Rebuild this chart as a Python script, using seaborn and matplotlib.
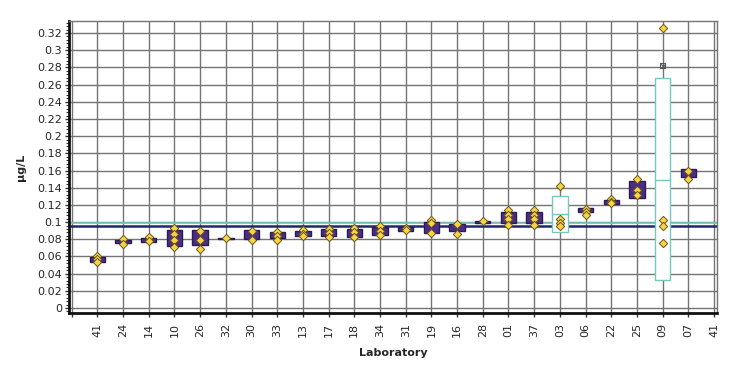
import numpy as np
import pandas as pd
import matplotlib
matplotlib.use("Agg")
import matplotlib.pyplot as plt
import seaborn as sns
from matplotlib.ticker import MultipleLocator, AutoMinorLocator, FuncFormatter

# ---------------- data ----------------
labs = ["41", "24", "14", "10", "26", "32", "30", "33", "13", "17", "18", "34",
        "31", "19", "16", "28", "01", "37", "03", "06", "22", "25", "09", "07"]
tick_labels = [""] + labs + ["41"]

box_low = [0.054, 0.076, 0.077, 0.0725, 0.0735, 0.0805, 0.080, 0.082, 0.0835, 0.084,
           0.083, 0.085, 0.090, 0.087, 0.0896, 0.0985, 0.0985, 0.0985, 0.088, 0.1115,
           0.121, 0.128, 0.0326, 0.153]
box_high = [0.059, 0.079, 0.082, 0.091, 0.091, 0.082, 0.091, 0.088, 0.090, 0.0915,
            0.092, 0.0946, 0.0946, 0.1004, 0.0977, 0.1016, 0.112, 0.112, 0.130, 0.116,
            0.1255, 0.148, 0.268, 0.1615]
box_median = [np.nan] * 18 + [0.109] + [np.nan] * 3 + [0.149, np.nan]
box_kind = ["lab"] * 18 + ["flag"] + ["lab"] * 3 + ["flag", "lab"]

point_lab = ["41", "41", "41", "24", "24", "14", "14", "10", "10", "10", "10",
             "26", "26", "26", "32", "30", "30", "33", "33", "33", "13", "13", "13",
             "17", "17", "17", "18", "18", "18", "34", "34", "34", "31", "31",
             "19", "19", "19", "16", "16", "28", "01", "01", "01", "01",
             "37", "37", "37", "37", "03", "03", "03", "03", "06", "06", "06",
             "22", "22", "22", "25", "25", "25", "09", "09", "09", "09", "07", "07"]
point_val = [0.061, 0.057, 0.053, 0.080, 0.075, 0.083, 0.078, 0.093, 0.086, 0.079, 0.071,
             0.0895, 0.0795, 0.069, 0.081, 0.0895, 0.0795, 0.0888, 0.0841, 0.0791,
             0.0908, 0.0861, 0.0838, 0.0915, 0.087, 0.0822, 0.0934, 0.0888, 0.083,
             0.0954, 0.090, 0.085, 0.0927, 0.0908, 0.1024, 0.0985, 0.087, 0.0974, 0.0857,
             0.1012, 0.1135, 0.1085, 0.1035, 0.097, 0.1135, 0.1085, 0.1035, 0.097,
             0.142, 0.1035, 0.0995, 0.095, 0.1155, 0.1115, 0.108, 0.1265, 0.1237, 0.1218,
             0.150, 0.137, 0.131, 0.326, 0.1024, 0.0958, 0.0753, 0.160, 0.1497]

outlier_lab = ["09"]
outlier_val = [0.282]

assigned_value = 0.0955
upper_ref = 0.0985

# ---------------- style ----------------
sns.set_style("white")
plt.rcParams["font.family"] = ["DejaVu Sans"]

PURPLE = "#4b2d86"
PURPLE_EDGE = "#2b1a57"
TEAL = "#78c7bd"
NAVY = "#1c2a68"
YELLOW = "#f6d34a"
YELLOW_EDGE = "#6e5a14"
GRID = "#747474"

fig = plt.figure(figsize=(7.36, 3.66), dpi=100)
ax = fig.add_axes([69 / 736, (366 - 313) / 366, (717 - 69) / 736, (313 - 21) / 366])

pos_of = {lab: i + 1 for i, lab in enumerate(labs)}
box_df = pd.DataFrame({"lab": labs, "low": box_low, "high": box_high,
                       "median": box_median, "kind": box_kind})
box_df["pos"] = np.arange(1, len(labs) + 1)
pts = pd.DataFrame({"lab": point_lab, "value": point_val})
pts["pos"] = pts["lab"].map(pos_of)
outs = pd.DataFrame({"lab": outlier_lab, "value": outlier_val})
outs["pos"] = outs["lab"].map(pos_of)

# grid
ax.set_axisbelow(True)
ax.grid(True, color=GRID, linewidth=1.0)

# reference lines
ax.axhline(upper_ref, color=TEAL, linewidth=1.2, zorder=2)
ax.axhline(assigned_value, color=NAVY, linewidth=1.8, zorder=2)

# boxes
for kind, fc, ec in [("lab", PURPLE, PURPLE_EDGE), ("flag", "white", TEAL)]:
    sub = box_df[box_df["kind"] == kind]
    ax.bar(sub["pos"], sub["high"] - sub["low"], bottom=sub["low"], width=0.6,
           color=fc, edgecolor=ec, linewidth=1.0, zorder=3)
flag = box_df[box_df["kind"] == "flag"]
ax.hlines(flag["median"], flag["pos"] - 0.3, flag["pos"] + 0.3, color=TEAL,
          linewidth=1.0, zorder=4)

# points
sns.scatterplot(data=pts, x="pos", y="value", marker="D", s=18, color=YELLOW,
                edgecolor=YELLOW_EDGE, linewidth=0.7, zorder=5, ax=ax, legend=False)
ax.scatter(outs["pos"], outs["value"], marker="s", s=12, facecolor="none",
           edgecolor="#555555", linewidth=0.8, zorder=5)
ax.scatter(outs["pos"], outs["value"], marker="x", s=10, color="#555555",
           linewidth=0.8, zorder=5)

# axes
ax.set_xlim(-0.105, 25.117)
ax.set_ylim(-0.0058, 0.334)
ax.set_xticks(range(len(tick_labels)))
ax.set_xticklabels(tick_labels, rotation=90, fontsize=8)
ax.yaxis.set_major_locator(MultipleLocator(0.02))
ax.yaxis.set_minor_locator(AutoMinorLocator(5))
ax.yaxis.set_major_formatter(FuncFormatter(lambda v, p: "%g" % round(v, 4)))
ax.tick_params(axis="y", which="major", left=True, length=3, width=1, labelsize=8,
               pad=2, color="#333333")
ax.tick_params(axis="y", which="minor", left=True, length=2, width=0.8, color="#333333")
ax.tick_params(axis="x", bottom=True, length=3, width=1, pad=4, color="#333333")

for side in ["top", "right"]:
    ax.spines[side].set_color(GRID)
    ax.spines[side].set_linewidth(1.0)
for side in ["left", "bottom"]:
    ax.spines[side].set_color("#111111")
    ax.spines[side].set_linewidth(2.0)

ax.set_xlabel("Laboratory", fontsize=8, fontweight="bold", labelpad=8)
ax.set_ylabel("µg/L", fontsize=8, fontweight="bold", labelpad=8)

fig.savefig("out.png", dpi=100)
